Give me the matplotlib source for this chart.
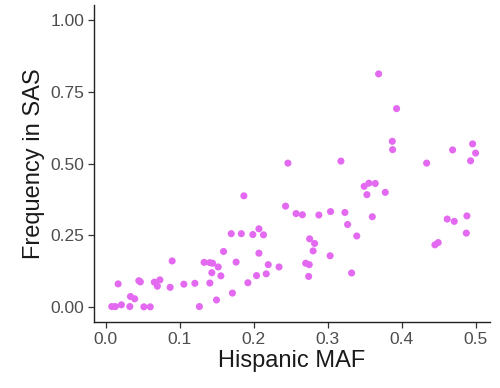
import matplotlib.pyplot as plt

# Hispanic MAF vs frequency in SAS
hispanic_maf = [
    0.008, 0.0128, 0.021, 0.0324, 0.0333, 0.039, 0.0514, 0.060, 0.0166, 0.0446,
    0.0466, 0.0655, 0.073, 0.0696, 0.0869, 0.0896, 0.1054, 0.1203, 0.1264, 0.1328,
    0.1405, 0.1442, 0.1518, 0.1432, 0.1554, 0.1405, 0.1495, 0.159, 0.176, 0.171,
    0.1694, 0.183, 0.1865, 0.1919, 0.1986, 0.2068, 0.213, 0.2068, 0.2036, 0.2167,
    0.2194, 0.234, 0.2428, 0.246, 0.257, 0.2655, 0.270, 0.2748, 0.274, 0.2753,
    0.282, 0.280, 0.2878, 0.3036, 0.303, 0.3176, 0.323, 0.3266, 0.339, 0.332,
    0.349, 0.3554, 0.364, 0.3527, 0.360, 0.3685, 0.3775, 0.387, 0.3874, 0.3928,
    0.4334, 0.4446, 0.449, 0.4612, 0.4707, 0.4685, 0.4878, 0.487, 0.4928, 0.4955,
    0.4996,
]
freq_sas = [
    0.002, 0.002, 0.008, 0.002, 0.037, 0.029, 0.001, 0.001, 0.081, 0.092,
    0.088, 0.087, 0.095, 0.073, 0.069, 0.161, 0.080, 0.083, 0.002, 0.156,
    0.155, 0.153, 0.140, 0.120, 0.109, 0.084, 0.025, 0.194, 0.157, 0.049,
    0.256, 0.256, 0.388, 0.085, 0.253, 0.273, 0.252, 0.188, 0.110, 0.116,
    0.148, 0.140, 0.352, 0.502, 0.326, 0.322, 0.153, 0.148, 0.107, 0.238,
    0.222, 0.196, 0.321, 0.333, 0.179, 0.509, 0.330, 0.288, 0.248, 0.119,
    0.421, 0.432, 0.431, 0.392, 0.315, 0.813, 0.400, 0.578, 0.549, 0.692,
    0.502, 0.217, 0.225, 0.307, 0.299, 0.548, 0.318, 0.258, 0.510, 0.569,
    0.537,
]

x_ticks = [0.0, 0.1, 0.2, 0.3, 0.4, 0.5]
y_ticks = [0.0, 0.25, 0.5, 0.75, 1.0]

plt.rcParams['font.family'] = ['Liberation Sans', 'DejaVu Sans']

fig = plt.figure(figsize=(5, 3.88), dpi=100)
ax = fig.add_axes([0.188, 0.170, 0.792, 0.817])

ax.scatter(hispanic_maf, freq_sas, s=26, color='#E36AF0', edgecolors='none', zorder=3)

ax.set_xlim(-0.016, 0.519)
ax.set_ylim(-0.052, 1.053)
ax.set_xticks(x_ticks)
ax.set_xticklabels(['0.0', '0.1', '0.2', '0.3', '0.4', '0.5'])
ax.set_yticks(y_ticks)
ax.set_yticklabels(['0.00', '0.25', '0.50', '0.75', '1.00'])

for side in ['top', 'right']:
    ax.spines[side].set_visible(False)
for side in ['left', 'bottom']:
    ax.spines[side].set_linewidth(1.0)
    ax.spines[side].set_color('#222222')

ax.tick_params(axis='both', length=4, width=0.9, color='#333333',
               labelsize=12.5, labelcolor='#4D4D4D', pad=3)

ax.set_xlabel('Hispanic MAF', fontsize=17, color='#1a1a1a', labelpad=2)
ax.set_ylabel('Frequency in SAS', fontsize=17, color='#1a1a1a', labelpad=4)

fig.savefig('out.png', dpi=100)
